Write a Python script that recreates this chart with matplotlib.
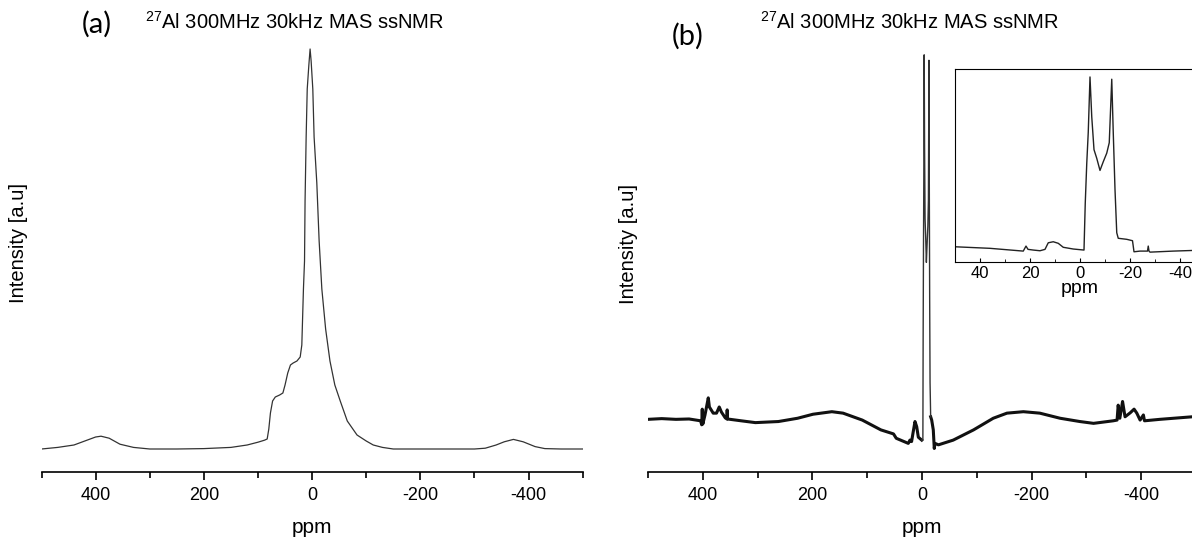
import matplotlib
matplotlib.use('Agg')
import matplotlib.pyplot as plt
import numpy as np
from matplotlib.ticker import MultipleLocator

plt.rcParams['font.family'] = ['Liberation Sans', 'DejaVu Sans']
plt.rcParams['mathtext.fontset'] = 'custom'
plt.rcParams['mathtext.rm'] = 'Liberation Sans'
plt.rcParams['mathtext.default'] = 'regular'
plt.rcParams['axes.unicode_minus'] = False

# panel (a) spectrum
ppm_a = [500, 470, 440, 420, 400, 390, 375, 355, 330, 300, 250, 200, 150, 120, 100,
         88, 83, 80, 77, 73, 68, 60, 54, 50, 45, 40, 35, 28, 22, 19, 16, 14, 13,
         11, 9, 6, 3.7, 1.8, -1.3, -3.7, -8.7, -13, -18, -25, -33, -42, -52, -65,
         -83, -100, -113, -130, -150, -200, -250, -300, -320, -340, -355, -372,
         -390, -412, -430, -460, -500]
int_a = [0.0, 0.004, 0.010, 0.020, 0.030, 0.032, 0.027, 0.012, 0.004, 0.0, 0.0, 0.001,
         0.004, 0.010, 0.017, 0.022, 0.025, 0.05, 0.09, 0.12, 0.13, 0.135, 0.14, 0.16,
         0.19, 0.21, 0.215, 0.22, 0.23, 0.26, 0.40, 0.47, 0.62, 0.78, 0.90, 0.96, 1.0,
         0.97, 0.90, 0.78, 0.665, 0.52, 0.40, 0.30, 0.22, 0.16, 0.12, 0.07, 0.035,
         0.02, 0.01, 0.004, 0.0, 0.0, 0.0, 0.0, 0.002, 0.010, 0.018, 0.024, 0.018,
         0.006, 0.001, 0.0, 0.0]

# panel (b) spectrum
ppm_b = [500, 475, 449, 425, 404, 402, 401, 400, 396, 390, 388, 381, 375, 370, 366,
         359, 356, 355.5, 355, 330, 304, 262, 227, 199, 164.5, 144, 109, 75, 52, 47,
         25, 22, 19, 16, 12.8, 9.7, 6.7, 0.5, -1.6, -2.1, -2.7, -3.3, -4, -4.7, -5.6,
         -6.7, -8, -9.3, -10.7, -11.7, -12.7, -13.3, -14, -14.7, -15.3, -15.8, -17.7,
         -20.6, -22.4, -23.7, -30, -57, -94, -130, -155, -185, -215, -252, -288, -313,
         -349, -356, -358, -361, -366, -370.5, -380, -387, -392, -398, -404, -406,
         -434, -493, -500]
int_b = [-0.001, 0.001, -0.001, 0.0, -0.005, -0.016, 0.027, -0.014, 0.011, 0.058,
         0.033, 0.016, 0.016, 0.033, 0.019, 0.003, 0.0, 0.025, 0.0, -0.005, -0.010,
         -0.007, 0.002, 0.013, 0.020, 0.016, -0.003, -0.030, -0.041, -0.053, -0.067,
         -0.058, -0.062, -0.035, -0.007, -0.021, -0.050, -0.058, -0.058, 0.23, 0.47,
         0.66, 1.0, 0.75, 0.55, 0.50, 0.43, 0.48, 0.53, 0.60, 0.985, 0.66, 0.33, 0.10,
         0.05, 0.006, -0.003, -0.03, -0.081, -0.067, -0.071, -0.058, -0.030, 0.002,
         0.016, 0.020, 0.016, 0.002, -0.007, -0.012, -0.005, -0.003, 0.038, 0.002,
         0.048, 0.006, 0.017, 0.027, 0.016, -0.003, 0.011, -0.005, -0.001, 0.006, 0.006]

# inset: central region of (b)
ppm_in = [50, 36, 22.7, 21.6, 20.8, 18.7, 16, 14, 12.7, 10.7, 8.7, 6.7, 2.7, -1.6,
          -2.1, -2.7, -3.3, -4, -4.7, -5.6, -6.7, -8, -9.3, -10.7, -11.7, -12.7,
          -13.3, -14, -14.7, -15.3, -18.7, -21, -21.6, -24, -27, -27.3, -27.6, -28,
          -37.3, -50]
int_in = [0.019, 0.010, -0.006, 0.023, 0.004, 0.0, -0.004, 0.004, 0.042, 0.048,
          0.039, 0.016, 0.006, 0.0, 0.27, 0.50, 0.68, 1.0, 0.77, 0.58, 0.53, 0.46,
          0.51, 0.56, 0.62, 0.987, 0.68, 0.35, 0.10, 0.068, 0.062, 0.054, -0.01,
          -0.006, -0.006, 0.023, -0.006, -0.012, -0.006, 0.0]

ticks_main = [400, 200, 0, -200, -400]
ticks_in = [40, 20, 0, -20, -40]

W, H = 1192, 539
fig = plt.figure(figsize=(W / 100, H / 100), dpi=100)


def box(l, t, r, b):
    return [l / W, 1 - b / H, (r - l) / W, (b - t) / H]


def style_main(ax):
    for s in ['left', 'right', 'top']:
        ax.spines[s].set_visible(False)
    ax.spines['bottom'].set_linewidth(1.2)
    ax.set_yticks([])
    ax.set_xlim(500, -500)
    ax.set_xticks(ticks_main)
    ax.xaxis.set_minor_locator(MultipleLocator(100))
    ax.tick_params(axis='x', which='major', length=6, width=1.2, labelsize=13, pad=5)
    ax.tick_params(axis='x', which='minor', length=4, width=1.2)
    ax.set_xlabel('ppm', fontsize=15, labelpad=10)


ax1 = fig.add_axes(box(41.5, 45, 582.7, 472))
ax1.plot(ppm_a, int_a, color='#333333', lw=0.9)
ax1.set_ylim(-0.0575, 1.01)
style_main(ax1)

ax2 = fig.add_axes(box(648, 45, 1196, 472))
pb = np.array(ppm_b)
ib = np.array(int_b)
centre = (pb <= 0.5) & (pb >= -15.8)
ax2.plot(pb[pb >= 0.5], ib[pb >= 0.5], color='#111111', lw=2.2)
ax2.plot(pb[pb <= -15.8], ib[pb <= -15.8], color='#111111', lw=2.2)
ax2.plot(pb[centre], ib[centre], color='#333333', lw=1.0)
ax2.set_ylim(-0.1456, 1.027)
style_main(ax2)

axi = fig.add_axes(box(955, 69, 1205, 262))
axi.plot(ppm_in, int_in, color='#222222', lw=1.0)
axi.set_xlim(50, -50)
axi.set_ylim(-0.069, 1.046)
axi.set_yticks([])
axi.set_xticks(ticks_in)
axi.xaxis.set_minor_locator(MultipleLocator(10))
axi.tick_params(axis='x', which='both', direction='in')
axi.tick_params(axis='x', which='major', length=3, labelsize=12, pad=3)
axi.tick_params(axis='x', which='minor', length=2)
axi.set_xlabel('ppm', fontsize=14, labelpad=-1)

fig.text(82 / W, 1 - 24 / H, '(a)', fontsize=21, family='Lato', ha='left', va='center')
fig.text(672 / W, 1 - 36 / H, '(b)', fontsize=21, family='Lato', ha='left', va='center')
for xt in [145, 760]:
    fig.text(xt / W, 1 - 22 / H, r'$^{27}$Al 300MHz 30kHz MAS ssNMR',
             fontsize=14.5, ha='left', va='center')

fig.text(19 / W, 1 - 243 / H, 'Intensity [a.u]', rotation=90, fontsize=14.5,
         ha='center', va='center')
fig.text(628 / W, 1 - 244 / H, 'Intensity [a.u]', rotation=90, fontsize=14.5,
         ha='center', va='center')

fig.savefig('out.png', dpi=100)
